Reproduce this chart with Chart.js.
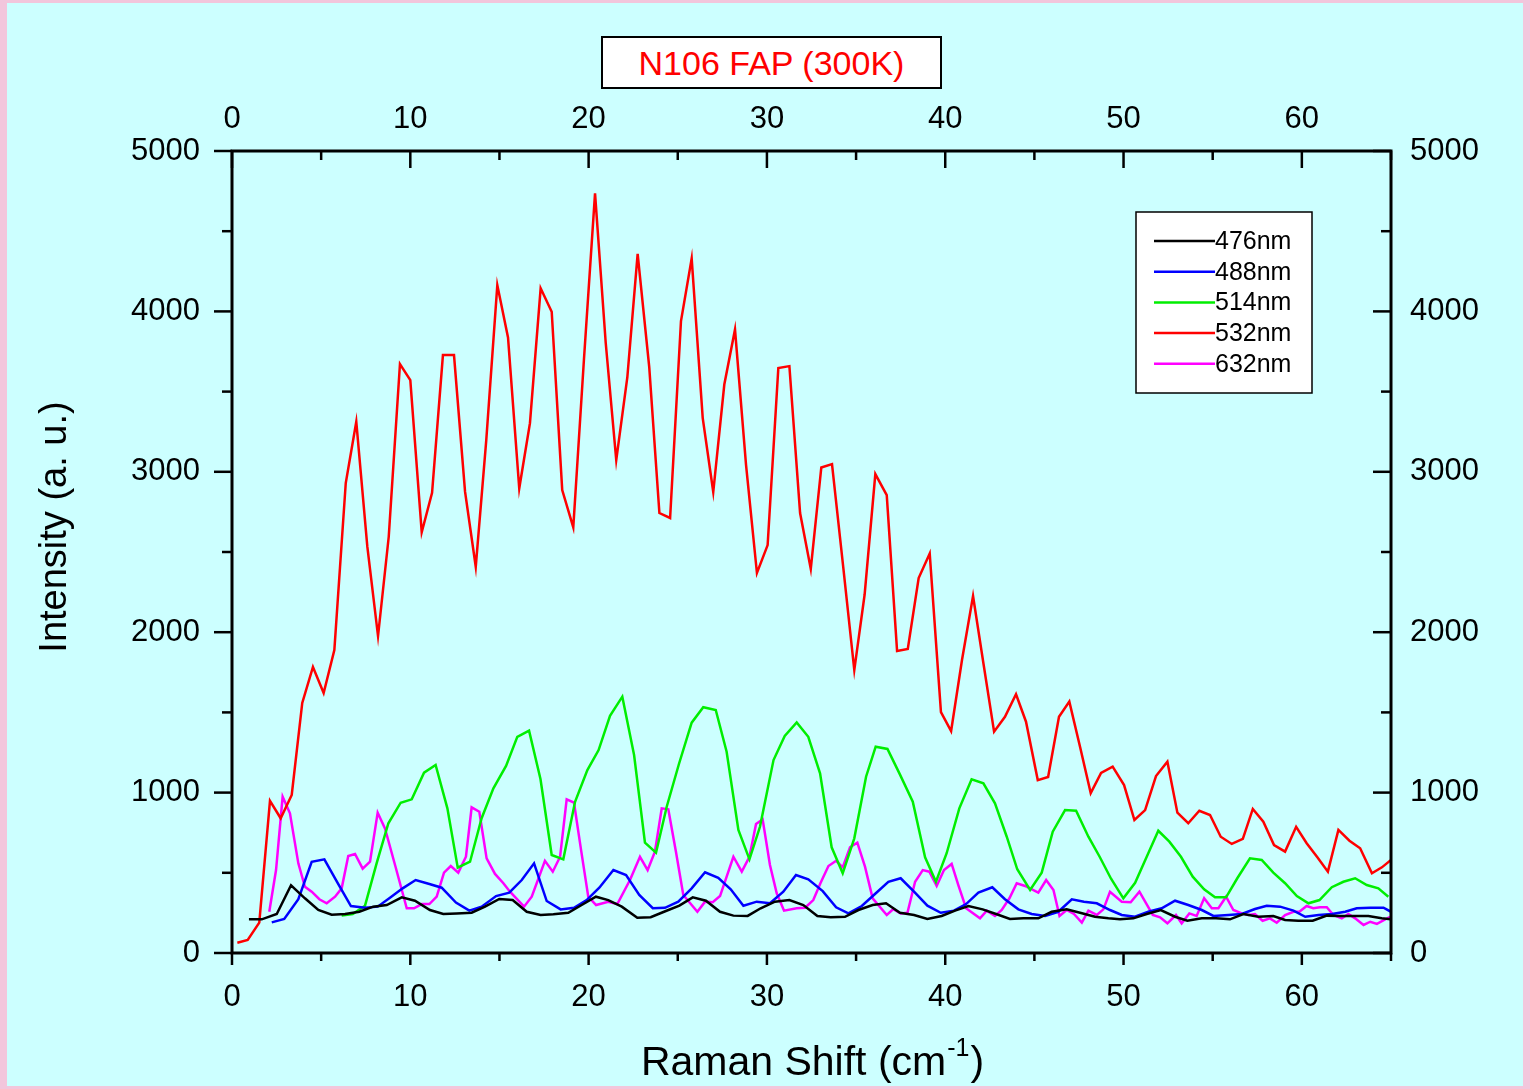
<!DOCTYPE html>
<html>
<head>
<meta charset="utf-8">
<script src="https://cdn.jsdelivr.net/npm/chart.js@4.4.0/dist/chart.umd.min.js"></script>
<style>
  html, body { margin: 0; padding: 0; }
  body { width: 1530px; height: 1089px; background: #f2c6dc; position: relative; overflow: hidden; }
  #panel { position: absolute; left: 7px; top: 3px; width: 1516px; height: 1083px; background: #ccffff; }
  #chart { position: absolute; left: 0; top: 0; }
  #title {
    position: absolute; left: 601px; top: 36px; width: 341px; height: 53px; box-sizing: border-box;
    border: 2px solid #000; background: #fff; color: #f00;
    font: 34px "Liberation Sans", Arial, sans-serif; text-align: center; line-height: 50px;
  }
</style>
</head>
<body>
<div id="panel"></div>
<canvas id="chart" width="1530" height="1089"></canvas>
<div id="title">N106 FAP (300K)</div>
<script>
// tick labels
const xTickValues = [0, 10, 20, 30, 40, 50, 60];
const yTickValues = [0, 1000, 2000, 3000, 4000, 5000];

// 476nm
const shift476 = [0.95,1.67,2.51,3.31,4.09,4.84,5.59,6.34,7.14,7.92,8.68,9.52,10.26,11.10,11.85,12.60,13.44,14.19,14.99,15.74,16.53,17.31,18.02,18.86,19.61,20.41,21.10,21.86,22.73,23.48,24.23,25.09,25.84,26.58,27.37,28.12,28.92,29.65,30.45,31.26,32.04,32.83,33.58,34.38,35.13,35.93,36.68,37.46,38.25,39.00,39.80,40.55,41.30,42.10,42.85,43.63,44.38,45.22,45.97,46.81,47.56,48.40,49.15,49.80,50.55,51.30,52.09,52.89,53.58,54.39,55.19,55.97,56.72,57.56,58.40,59.06,59.80,60.61,61.40,62.14,62.98,63.73,64.48,65.0];
const int476 = [210,210,243,422,341,268,239,243,257,289,299,347,326,268,243,247,251,289,337,330,257,237,241,251,299,351,330,289,220,223,257,295,347,326,257,233,231,279,320,330,299,231,223,226,268,299,310,251,237,212,231,264,293,272,243,212,216,216,257,272,251,226,216,210,216,243,268,226,201,216,216,210,243,226,231,206,201,201,233,231,231,231,216,210];

// 488nm
const shift488 = [2.23,2.93,3.72,4.47,5.18,5.93,6.67,7.46,8.17,8.86,9.57,10.30,11.07,11.76,12.56,13.31,14.00,14.81,15.55,16.25,16.94,17.65,18.43,19.18,19.89,20.60,21.39,22.10,22.84,23.60,24.28,25.03,25.78,26.53,27.27,27.97,28.68,29.43,30.17,30.92,31.63,32.32,33.13,33.88,34.57,35.32,36.06,36.81,37.50,38.25,39.00,39.75,40.49,41.17,41.86,42.64,43.35,44.10,44.85,45.60,46.34,47.10,47.78,48.50,49.24,49.90,50.64,51.39,52.14,52.89,53.63,54.39,55.04,55.88,56.63,57.37,58.03,58.78,59.53,60.19,60.94,61.69,62.43,63.08,63.84,64.58,65.0];
const int488 = [191,212,335,569,584,435,293,282,289,345,403,455,430,407,314,264,289,355,376,455,559,324,272,282,330,407,517,486,362,279,282,320,403,503,469,397,295,320,310,382,486,459,386,285,247,293,368,444,466,382,295,251,264,305,376,410,335,272,243,231,257,335,320,310,268,237,226,257,279,326,299,268,231,237,243,274,295,289,264,226,237,243,257,279,282,282,257];

// 514nm
const shift514 = [6.15,6.77,7.46,8.11,8.77,9.46,10.08,10.77,11.42,12.08,12.66,13.35,14.00,14.66,15.37,16.00,16.66,17.30,17.93,18.58,19.24,19.93,20.56,21.20,21.89,22.55,23.16,23.78,24.38,25.07,25.78,26.43,27.13,27.74,28.40,29.02,29.61,30.37,31.00,31.67,32.32,32.98,33.63,34.25,34.90,35.56,36.10,36.76,37.43,38.18,38.87,39.48,40.08,40.79,41.48,42.14,42.79,43.45,44.04,44.76,45.41,46.03,46.72,47.34,48.03,48.66,49.30,49.99,50.65,51.30,51.95,52.57,53.22,53.88,54.52,55.13,55.75,56.38,57.09,57.75,58.40,59.06,59.72,60.37,60.99,61.68,62.33,62.99,63.64,64.29,64.85];
const int514 = [233,243,295,559,809,937,958,1124,1172,902,532,569,840,1027,1166,1348,1386,1085,611,584,943,1140,1265,1479,1598,1234,688,625,912,1180,1436,1532,1515,1255,767,584,787,1203,1353,1438,1348,1120,659,497,715,1099,1286,1272,1120,943,597,444,622,902,1083,1058,933,725,522,393,501,756,891,887,725,600,463,341,438,600,762,694,600,476,397,347,347,466,590,580,501,435,355,310,330,410,444,466,424,403,351];

// 532nm
const shift532 = [0.30,0.88,1.53,2.13,2.73,3.35,3.94,4.54,5.14,5.74,6.38,6.97,7.59,8.19,8.79,9.42,10.00,10.64,11.22,11.83,12.45,13.07,13.67,14.26,14.88,15.48,16.11,16.71,17.31,17.93,18.52,19.14,19.74,20.36,20.96,21.55,22.17,22.75,23.40,23.97,24.57,25.18,25.78,26.40,26.99,27.61,28.21,28.83,29.44,30.04,30.64,31.26,31.86,32.46,33.05,33.65,34.28,34.90,35.48,36.08,36.72,37.30,37.90,38.51,39.13,39.76,40.33,40.94,41.56,42.15,42.74,43.35,43.97,44.53,45.19,45.77,46.38,46.96,47.56,48.16,48.74,49.39,50.03,50.61,51.21,51.82,52.46,53.02,53.63,54.25,54.85,55.45,56.07,56.69,57.25,57.84,58.44,59.06,59.68,60.27,60.87,61.46,62.05,62.67,63.27,63.93,64.49,65.0];
const int532 = [64,81,189,949,840,985,1559,1783,1621,1889,2930,3312,2533,1976,2595,3672,3572,2623,2869,3728,3728,2876,2408,3198,4164,3838,2897,3303,4144,3998,2886,2654,3703,4736,3803,3073,3588,4358,3653,2743,2712,3940,4330,3335,2874,3544,3887,3042,2369,2543,3647,3659,2743,2394,3027,3048,2406,1764,2235,2986,2855,1883,1895,2338,2490,1502,1384,1827,2226,1800,1380,1473,1613,1442,1078,1097,1473,1567,1286,997,1122,1162,1047,829,891,1103,1193,875,809,887,860,725,680,711,898,819,673,632,787,684,597,507,767,700,653,497,534,580];

// 632nm
const shift632 = [2.09,2.47,2.84,3.25,3.72,4.09,4.47,4.90,5.31,5.78,6.15,6.52,6.90,7.33,7.74,8.17,8.58,9.19,9.80,10.21,10.64,11.07,11.48,11.89,12.27,12.69,13.12,13.44,13.87,14.28,14.75,15.22,15.59,16.38,16.81,17.55,17.99,18.40,18.77,19.18,19.58,19.98,20.42,21.10,21.61,22.32,22.88,23.31,23.72,24.10,24.47,24.90,25.31,26.10,26.53,26.96,27.37,28.12,28.59,29.02,29.39,29.76,30.17,30.55,30.96,31.67,32.14,32.60,33.00,33.45,33.88,34.25,34.66,35.07,35.50,35.93,36.72,37.09,37.50,37.88,38.31,38.74,39.11,39.52,39.93,40.36,40.73,41.17,41.95,42.33,42.79,43.17,43.60,44.01,44.48,45.22,45.66,46.07,46.41,46.81,47.22,47.66,48.03,48.50,48.87,49.24,49.90,50.40,50.89,51.64,52.05,52.46,52.94,53.26,53.69,54.10,54.52,54.95,55.32,55.75,56.16,56.63,57.00,57.37,57.80,58.21,58.59,59.06,59.53,59.86,60.27,60.64,61.02,61.40,61.77,62.24,62.61,62.99,63.46,63.84,64.21,64.95];
const int632 = [257,517,974,871,559,413,382,335,310,351,403,605,617,526,569,875,777,530,279,279,305,305,351,501,542,501,600,908,881,590,493,435,382,289,351,575,507,600,958,937,640,351,299,320,305,455,600,517,632,902,896,630,362,257,320,316,355,600,507,600,804,833,549,372,264,279,282,330,435,542,575,534,659,688,538,341,237,274,247,251,444,517,507,418,517,555,424,279,216,264,231,268,341,435,418,376,455,393,231,268,243,189,264,237,272,382,320,316,382,237,222,185,237,185,247,231,341,279,279,351,268,247,237,243,201,216,189,237,257,257,293,279,285,285,237,216,243,216,175,195,181,226];

const series = [
  { label: "476nm", color: "#000000", x: shift476, y: int476 },
  { label: "488nm", color: "#0000ff", x: shift488, y: int488 },
  { label: "514nm", color: "#00ee00", x: shift514, y: int514 },
  { label: "532nm", color: "#ff0000", x: shift532, y: int532 },
  { label: "632nm", color: "#ff00ff", x: shift632, y: int632 },
];

const FONT = '"Liberation Sans", Arial, sans-serif';
Chart.defaults.font.family = FONT;
Chart.defaults.color = "#000";

// legend box in the upper right of the plot
const legendBox = {
  id: "legendBox",
  afterDatasetsDraw(chart) {
    const ctx = chart.ctx;
    ctx.save();
    ctx.fillStyle = "#fff";
    ctx.fillRect(1136, 212, 176, 181);
    ctx.strokeStyle = "#000";
    ctx.lineWidth = 1.5;
    ctx.strokeRect(1136, 212, 176, 181);
    ctx.font = "25px " + FONT;
    ctx.textBaseline = "middle";
    chart.data.datasets.forEach((ds, i) => {
      const y = 241 + i * 30.7;
      ctx.strokeStyle = ds.borderColor;
      ctx.lineWidth = 2.5;
      ctx.beginPath();
      ctx.moveTo(1154, y);
      ctx.lineTo(1215, y);
      ctx.stroke();
      ctx.fillStyle = "#000";
      ctx.fillText(ds.label, 1215, y + 1);
    });
    ctx.restore();
  }
};

// frame, minor/major ticks and axis titles
const frameTicks = {
  id: "frameTicks",
  afterDraw(chart) {
    const { ctx, chartArea: a, scales } = chart;
    const line = (x1, y1, x2, y2) => { ctx.beginPath(); ctx.moveTo(x1, y1); ctx.lineTo(x2, y2); ctx.stroke(); };
    ctx.save();
    ctx.strokeStyle = "#000";
    ctx.lineWidth = 3;
    ctx.strokeRect(a.left, a.top, a.right - a.left, a.bottom - a.top);
    ctx.lineWidth = 2.5;
    for (let v = 0; v <= 65; v += 5) {
      const x = scales.x.getPixelForValue(v);
      const major = v % 10 === 0;
      line(x, a.bottom, x, a.bottom + (major ? 12 : 8));
      line(x, a.top, x, a.top + (major ? 17 : 9));
    }
    for (let v = 0; v <= 5000; v += 500) {
      const y = scales.y.getPixelForValue(v);
      const major = v % 1000 === 0;
      line(a.left, y, a.left - (major ? 18 : 10), y);
      line(a.right, y, a.right - (major ? 18 : 10), y);
    }

    ctx.fillStyle = "#000";
    // y title
    ctx.save();
    ctx.translate(56, 527);
    ctx.rotate(-Math.PI / 2);
    ctx.font = "38px " + FONT;
    ctx.textAlign = "center";
    ctx.textBaseline = "middle";
    ctx.fillText("Intensity (a. u.)", 0, 0);
    ctx.restore();

    // x title with superscript
    const main = "41px " + FONT, sup = "25px " + FONT;
    ctx.textBaseline = "alphabetic";
    ctx.textAlign = "left";
    ctx.font = main;
    const w1 = ctx.measureText("Raman Shift (cm").width;
    const w3 = ctx.measureText(")").width;
    ctx.font = sup;
    const w2 = ctx.measureText("-1").width;
    let x = (a.left + a.right) / 2 - (w1 + w2 + w3) / 2;
    const base = 1075;
    ctx.font = main;
    ctx.fillText("Raman Shift (cm", x, base);
    x += w1;
    ctx.font = sup;
    ctx.fillText("-1", x + 1, base - 19);
    x += w2 + 2;
    ctx.font = main;
    ctx.fillText(")", x, base);
    ctx.restore();
  }
};

const tickFont = { size: 31, family: FONT };
const setTicks = (values) => (scale) => { scale.ticks = values.map(v => ({ value: v })); };
const plain = (v) => String(v);

new Chart(document.getElementById("chart"), {
  type: "line",
  data: {
    datasets: series.map(s => ({
      label: s.label,
      data: s.x.map((v, i) => ({ x: v, y: s.y[i] })),
      borderColor: s.color,
      borderWidth: 2.5,
      pointRadius: 0,
      tension: 0,
      fill: false,
    })),
  },
  options: {
    responsive: false,
    devicePixelRatio: 1,
    animation: false,
    layout: { padding: 0 },
    plugins: { legend: { display: false }, tooltip: { enabled: false } },
    scales: {
      x: {
        type: "linear", position: "bottom", min: 0, max: 65,
        afterBuildTicks: setTicks(xTickValues),
        afterFit(s) { s.height = 136; },
        grid: { display: false, drawTicks: false }, border: { display: false },
        ticks: { font: tickFont, color: "#000", padding: 26, maxRotation: 0, autoSkip: false, callback: plain },
      },
      x2: {
        type: "linear", position: "top", min: 0, max: 65,
        afterBuildTicks: setTicks(xTickValues),
        afterFit(s) { s.height = 151; },
        grid: { display: false, drawTicks: false }, border: { display: false },
        ticks: { font: tickFont, color: "#000", padding: 13, maxRotation: 0, autoSkip: false, callback: plain },
      },
      y: {
        type: "linear", position: "left", min: 0, max: 5000,
        afterBuildTicks: setTicks(yTickValues),
        afterFit(s) { s.width = 232; },
        grid: { display: false, drawTicks: false }, border: { display: false },
        ticks: { font: tickFont, color: "#000", padding: 32, callback: plain },
      },
      y2: {
        type: "linear", position: "right", min: 0, max: 5000,
        afterBuildTicks: setTicks(yTickValues),
        afterFit(s) { s.width = 139; },
        grid: { display: false, drawTicks: false }, border: { display: false },
        ticks: { font: tickFont, color: "#000", padding: 19, callback: plain },
      },
    },
  },
  plugins: [legendBox, frameTicks],
});
</script>
</body>
</html>
